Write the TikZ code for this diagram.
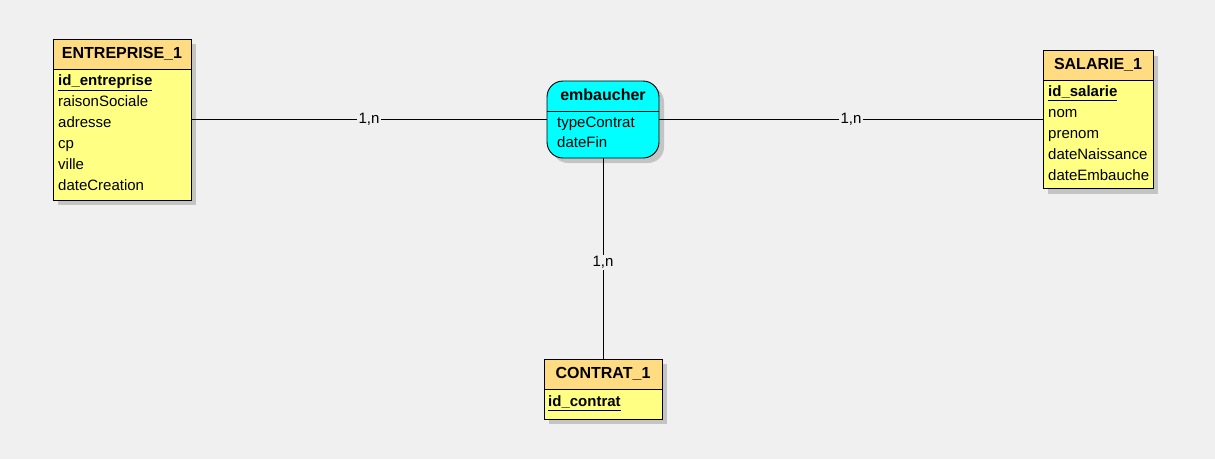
\documentclass[tikz,border=0pt]{standalone}
\usepackage{fontspec}
\setmainfont{Liberation Sans}
\usetikzlibrary{shadows}
\definecolor{bg}{HTML}{F0F0F0}
\definecolor{headcol}{HTML}{FFDC82}
\definecolor{bodycol}{HTML}{FFFF84}
\definecolor{relcol}{HTML}{00FFFF}
\definecolor{shadowcol}{HTML}{C4C4C4}
\begin{document}
\begin{tikzpicture}[x=1pt,y=-1pt,
  shadebox/.style={drop shadow={shadow xshift=5pt,shadow yshift=-5pt,fill=shadowcol,opacity=1}},
  entity/.style={draw=black,line width=0.9pt,fill=bodycol,shadebox,inner sep=0pt,
    path picture={
      \fill[headcol] (path picture bounding box.north west) rectangle ([yshift=-30pt]path picture bounding box.north east);
      \draw[line width=0.9pt] ([yshift=-30pt]path picture bounding box.north west) -- ([yshift=-30pt]path picture bounding box.north east);
    }},
  relation/.style={draw=black,line width=0.9pt,fill=relcol,shadebox,inner sep=0pt,rounded corners=16pt,
    path picture={
      \draw[line width=0.9pt] ([yshift=-30pt]path picture bounding box.north west) -- ([yshift=-30pt]path picture bounding box.north east);
    }},
  title/.style={inner sep=0pt,font=\bfseries\fontsize{16}{19}\selectfont,text height=11.5pt,text depth=3pt},
  attr/.style={anchor=west,inner sep=0pt,yshift=-1.2pt,font=\fontsize{15}{18}\selectfont,text height=11pt,text depth=3pt},
  key/.style={attr,font=\bfseries\fontsize{15}{18}\selectfont},
  card/.style={fill=bg,inner sep=1.5pt,font=\fontsize{15}{17}\selectfont},
  link/.style={draw=black,line width=0.8pt}]
\fill[bg] (0,0) rectangle (1215,459);
\useasboundingbox (0,0) rectangle (1215,459);

% boxes
\node[entity,minimum width=138pt,minimum height=161pt] (ent) at (122,119.5) {};
\node[entity,minimum width=110pt,minimum height=138pt] (sal) at (1098,119.5) {};
\node[entity,minimum width=118pt,minimum height=60pt] (con) at (603,389) {};
\node[relation,minimum width=112pt,minimum height=77pt] (emb) at (603,119.5) {};

\draw[link] (ent) -- node[card] {1,n} (emb);
\draw[link] (emb) -- node[card] {1,n} (sal);
\draw[link] (emb) -- node[card,pos=0.52] {1,n} (con);

% ENTREPRISE_1
\node[title] (entT) at (122,54) {ENTREPRISE\_1};
\node[key] (e1) at (58,80.7) {\underline{id\_entreprise}};
\node[attr] (e2) at (58,101.7) {raisonSociale};
\node[attr] (e3) at (58,122.7) {adresse};
\node[attr] (e4) at (58,143.7) {cp};
\node[attr] (e5) at (58,164.7) {ville};
\node[attr] (e6) at (58,185.7) {dateCreation};

% SALARIE_1
\node[title] (salT) at (1098,65) {SALARIE\_1};
\node[key] (s1) at (1048,91.7) {\underline{id\_salarie}};
\node[attr] (s2) at (1048,112.3) {nom};
\node[attr] (s3) at (1048,133.3) {prenom};
\node[attr] (s4) at (1048,154.3) {dateNaissance};
\node[attr] (s5) at (1048,175) {dateEmbauche};

% CONTRAT_1
\node[title] (conT) at (603,374) {CONTRAT\_1};
\node[key] (c1) at (548,401.7) {\underline{id\_contrat}};

% embaucher
\node[title] (embT) at (603,96) {embaucher};
\node[attr] (r1) at (557,122.3) {typeContrat};
\node[attr] (r2) at (557,142.3) {dateFin};
\end{tikzpicture}
\end{document}
